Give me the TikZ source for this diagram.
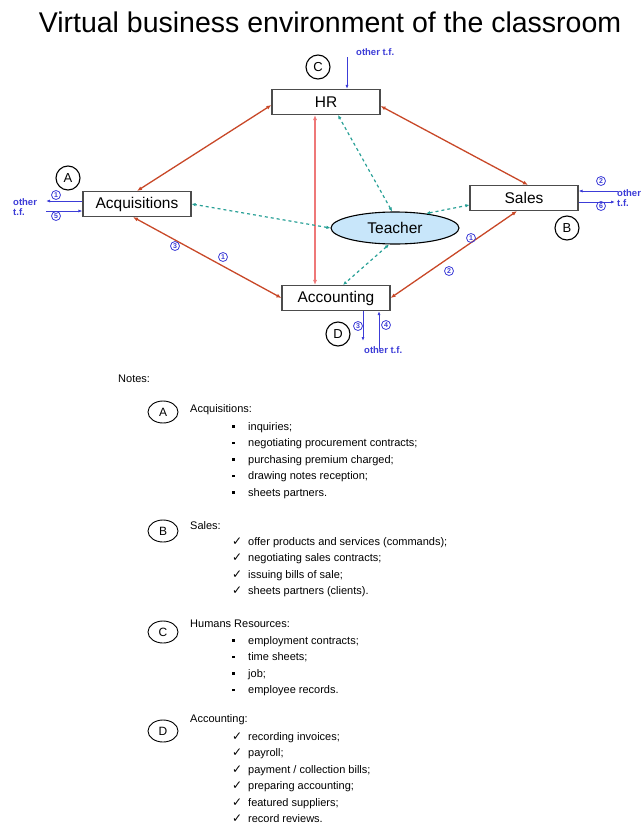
\documentclass[tikz,border=0pt]{standalone}
\usepackage{fontspec}
\setmainfont{Liberation Sans}
\newfontfamily\symfont{DejaVu Sans}
\usepackage{tikz}
\usetikzlibrary{arrows.meta}
\usetikzlibrary{positioning}
\usetikzlibrary{shapes.geometric}
\usetikzlibrary{calc}
\definecolor{flowred}{RGB}{200,72,40}
\definecolor{flowpink}{RGB}{238,120,120}
\definecolor{linkteal}{RGB}{40,160,150}
\definecolor{extblue}{RGB}{60,60,215}
\definecolor{teachblue}{RGB}{200,230,250}
\tikzstyle{unit}=[draw=black!70,line width=1.1pt,fill=white,minimum width=108pt,minimum height=25pt,inner sep=0pt,font=\fontsize{15.5}{17}\selectfont]
\tikzstyle{tag}=[draw,circle,line width=1.1pt,minimum size=24pt,inner sep=0pt,font=\fontsize{13}{15}\selectfont]
\tikzstyle{num}=[draw=extblue,circle,line width=0.8pt,minimum size=9pt,inner sep=0pt,text=extblue,font=\fontsize{7}{7}\selectfont\bfseries]
\tikzstyle{other}=[text=extblue,align=left,inner sep=0pt,font=\fontsize{9.5}{10}\selectfont\bfseries]
\newcommand{\sq}{\makebox[16pt][l]{\rule[2.5pt]{2.5pt}{2.5pt}}}
\newcommand{\ck}{\makebox[16pt][l]{\symfont\fontsize{12}{12}\selectfont ✓}}

\begin{document}
\begin{tikzpicture}[x=1pt,y=-1pt]
\tikzstyle{flow}=[flowred,line width=1.3pt,{Latex[length=5pt,width=4pt]}-{Latex[length=5pt,width=4pt]}]
\tikzstyle{link}=[linkteal,dashed,line width=1.2pt,{Latex[length=4pt,width=3.5pt]}-{Latex[length=4pt,width=3.5pt]}]
\tikzstyle{ext}=[extblue,line width=0.9pt,-{Latex[length=4pt,width=3pt]}]
\tikzstyle{ellip}=[draw,ellipse,line width=0.9pt,minimum width=30pt,minimum height=22pt,inner sep=0pt,font=\fontsize{12}{14}\selectfont]
\tikzstyle{head}=[anchor=west,inner sep=0pt,font=\fontsize{11}{14}\selectfont]
\tikzstyle{items}=[anchor=north west,align=left,inner sep=0pt,font=\fontsize{11}{16.5}\selectfont]
\useasboundingbox (0,0) rectangle (641,827);

\node (title) at (330,22) {\fontsize{28.5}{32}\selectfont Virtual business environment of the classroom};

% departments
\node [unit] (hr) at (326,102) {HR};
\node [unit] (acq) at (137,204) {Acquisitions};
\node [unit] (sales) at (524,198) {Sales};
\node [unit] (acc) at (336,298) {Accounting};
\node [draw,ellipse,line width=1.1pt,fill=teachblue,minimum width=128pt,minimum height=32pt,font=\fontsize{15.5}{17}\selectfont] (teach) at (395,228) {Teacher};

\node [tag] (tc) at (318,67) {C};
\node [tag] (ta) at (68,178) {A};
\node [tag] (tb) at (567,228) {B};
\node [tag] (td) at (338,334) {D};

% flows between departments
\draw [flow] ([yshift=-3pt]hr.west) -- (acq.north);
\draw [flow] ([yshift=-4pt]hr.east) -- ([xshift=4pt]sales.north);
\draw [flow,flowpink] ([xshift=-11pt]hr.south) -- ([xshift=-11pt]hr.south |- acc.north);
\draw [flow] ([xshift=-4pt]acq.south) -- (acc.west);
\draw [flow] ([xshift=-7pt]sales.south) -- (acc.east);

\draw [link] (teach.west) -- (acq.east);
\draw [link] (teach.100) -- ([xshift=12pt]hr.south);
\draw [link] (teach.25) -- ([yshift=-7pt]sales.west);
\draw [link] (teach.250) -- ([xshift=7pt]acc.north);

\node [num] (n1) at (175,246) {3};
\node [num] (n2) at (223,257) {1};
\node [num] (n3) at (471,238) {1};
\node [num] (n4) at (449,271) {2};

% other transactions
\coordinate (hrin) at (347,57);
\draw [ext] (hrin) -- (hrin |- hr.north);
\node [other,anchor=west] (ohr) at (356,52) {other t.f.};

\coordinate (acqout) at (46,201);
\coordinate (acqin) at (46,211);
\draw [ext] (acq.west |- acqout) -- (acqout);
\draw [ext] (acqin) -- (acq.west |- acqin);
\node [num] (n5) at (56,195) {1};
\node [num] (n6) at (56,216) {5};
\node [other,anchor=west] (oacq) at (13,207) {other\\t.f.};

\coordinate (salesin) at (618,191);
\coordinate (salesout) at (615,202);
\draw [ext] (salesin) -- (sales.east |- salesin);
\draw [ext] (sales.east |- salesout) -- (salesout);
\node [num] (n7) at (601,181) {2};
\node [num] (n8) at (601,206) {6};
\node [other,anchor=west] (osales) at (617,198) {other\\t.f.};

\coordinate (accout) at (363,341);
\coordinate (accin) at (379,349);
\draw [ext] (acc.south -| accout) -- (accout);
\draw [ext] (accin) -- (accin |- acc.south);
\node [num] (n9) at (358,326) {3};
\node [num] (n10) at (386,325) {4};
\node [other,anchor=west] (oacc) at (364,350) {other t.f.};

% notes
\node [head] (notes) at (118,379) {Notes:};

\node [ellip] (ea) at (163,412) {A};
\node [head] (ha) at (190,410) {Acquisitions:};
\node [items] (la) at (232,422) {\sq inquiries;\\ \sq negotiating procurement contracts;\\ \sq purchasing premium charged;\\ \sq drawing notes reception;\\ \sq sheets partners.};

\node [ellip] (eb) at (163,531) {B};
\node [head] (hb) at (190,526) {Sales:};
\node [items] (lb) at (232,537) {\ck offer products and services (commands);\\ \ck negotiating sales contracts;\\ \ck issuing bills of sale;\\ \ck sheets partners (clients).};

\node [ellip] (ec) at (163,632) {C};
\node [head] (hc) at (190,624) {Humans Resources:};
\node [items] (lc) at (232,636) {\sq employment contracts;\\ \sq time sheets;\\ \sq job;\\ \sq employee records.};

\node [ellip] (ed) at (163,731) {D};
\node [head] (hd) at (190,720) {Accounting:};
\node [items] (ld) at (232,732) {\ck recording invoices;\\ \ck payroll;\\ \ck payment / collection bills;\\ \ck preparing accounting;\\ \ck featured suppliers;\\ \ck record reviews.};
\end{tikzpicture}
\end{document}
